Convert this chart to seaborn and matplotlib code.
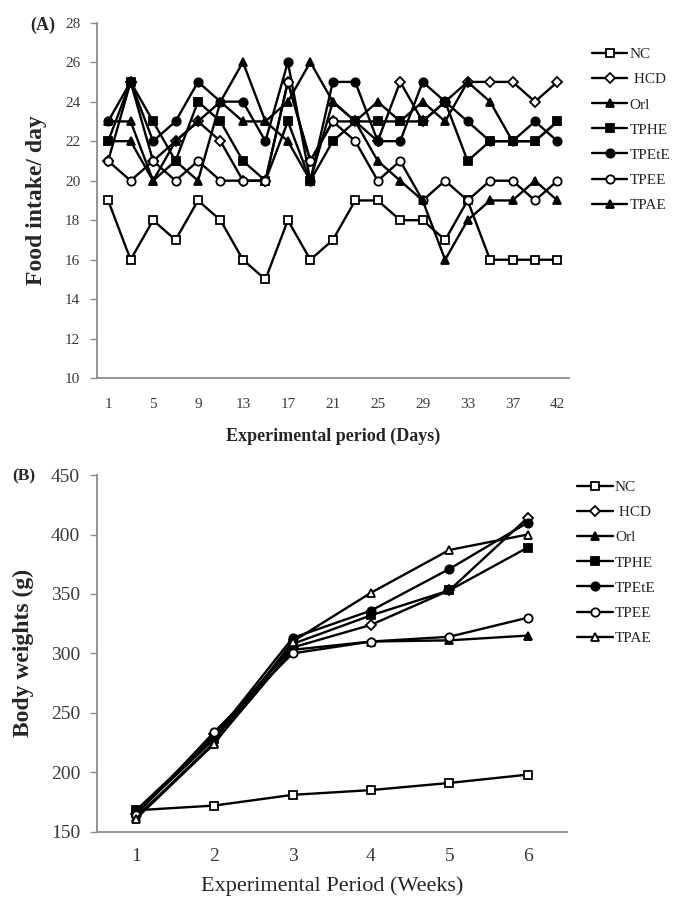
import pandas as pd
import seaborn as sns
import matplotlib.pyplot as plt
import numpy as np

# ---- data ----
groups = ['NC', 'HCD', 'Orl', 'TPHE', 'TPEtE', 'TPEE', 'TPAE']
legend_labels = ['NC', ' HCD', 'Orl', 'TPHE', 'TPEtE', 'TPEE', 'TPAE']

days = [1, 3, 5, 7, 9, 11, 13, 15, 17, 19, 21, 23, 25, 27, 29, 31, 33, 35, 37, 39, 42]
food_nc = [19, 16, 18, 17, 19, 18, 16, 15, 18, 16, 17, 19, 19, 18, 18, 17, 19, 16, 16, 16, 16]
food_hcd = [21, 25, 21, 22, 23, 22, 20, 20, 25, 21, 23, 23, 22, 25, 23, 24, 25, 25, 25, 24, 25]
food_orl = [23, 23, 20, 22, 23, 24, 26, 23, 24, 26, 24, 23, 24, 23, 24, 23, 25, 24, 22, 22, 23]
food_tphe = [22, 25, 23, 21, 24, 23, 21, 20, 23, 20, 22, 23, 23, 23, 23, 24, 21, 22, 22, 22, 23]
food_tpete = [23, 25, 22, 23, 25, 24, 24, 22, 26, 20, 25, 25, 22, 22, 25, 24, 23, 22, 22, 23, 22]
food_tpee = [21, 20, 21, 20, 21, 20, 20, 20, 25, 21, 23, 22, 20, 21, 19, 20, 19, 20, 20, 19, 20]
food_tpae = [22, 22, 20, 21, 20, 24, 23, 23, 22, 20, 24, 23, 21, 20, 19, 16, 18, 19, 19, 20, 19]

weeks = [1, 2, 3, 4, 5, 6]
bw_nc = [168, 172, 181, 185, 191, 198]
bw_hcd = [165, 232, 305, 324, 353, 414]
bw_orl = [162, 225, 303, 310, 311, 315]
bw_tphe = [166, 228, 308, 332, 353, 389]
bw_tpete = [168, 230, 313, 336, 371, 410]
bw_tpee = [164, 234, 300, 310, 314, 330]
bw_tpae = [161, 224, 310, 351, 387, 400]

food = pd.DataFrame({'pos': np.arange(len(days))})
for g, v in zip(groups, [food_nc, food_hcd, food_orl, food_tphe, food_tpete, food_tpee, food_tpae]):
    food[g] = v
food = food.melt(id_vars='pos', var_name='group', value_name='intake')

bw = pd.DataFrame({'week': weeks})
for g, v in zip(groups, [bw_nc, bw_hcd, bw_orl, bw_tphe, bw_tpete, bw_tpee, bw_tpae]):
    bw[g] = v
bw = bw.melt(id_vars='week', var_name='group', value_name='weight')

# marker, face colour, size for each panel
style_a = {'NC': ('s', 'white', 6), 'HCD': ('D', 'white', 5), 'Orl': ('^', 'black', 6),
           'TPHE': ('s', 'black', 6), 'TPEtE': ('o', 'black', 6), 'TPEE': ('o', 'white', 6),
           'TPAE': ('^', 'black', 6)}
style_b = dict(style_a)
style_b['TPAE'] = ('^', 'white', 6)

sns.set_style("white")
plt.rcParams['font.family'] = ['Liberation Serif', 'DejaVu Serif']
tick_col = '#3a3a3a'
spine_col = '#8c8c8c'

fig = plt.figure(figsize=(6.73, 9.05), dpi=100)
ax_a = fig.add_axes([0.144, 0.582, 0.701, 0.393])
ax_b = fig.add_axes([0.144, 0.081, 0.698, 0.394])


def draw(ax, df, x, y, styles):
    for g, lab in zip(groups, legend_labels):
        m, fc, ms = styles[g]
        sns.lineplot(data=df[df['group'] == g], x=x, y=y, ax=ax, color='black',
                     linewidth=1.7, marker=m, markersize=ms, markerfacecolor=fc,
                     markeredgecolor='black', markeredgewidth=1.3, label=lab)
    for side in ['top', 'right']:
        ax.spines[side].set_visible(False)
    for side in ['left', 'bottom']:
        ax.spines[side].set_color(spine_col)
        ax.spines[side].set_linewidth(1.3)


# ---- panel A ----
draw(ax_a, food, 'pos', 'intake', style_a)
ax_a.set_xlim(-0.5, len(days) - 0.5)
ax_a.set_ylim(10, 28)
ax_a.set_yticks(range(10, 29, 2))
ax_a.set_xticks(np.arange(len(days))[::2])
ax_a.set_xticklabels([str(d) for d in days[::2]])
ax_a.set_xticks(np.arange(len(days) + 1) - 0.5, minor=True)
ax_a.tick_params(axis='x', which='major', length=0, pad=14, labelsize=11, labelcolor=tick_col)
ax_a.tick_params(axis='x', which='minor', length=4, width=1, color=spine_col, direction='out')
ax_a.tick_params(axis='y', length=5, width=1, color=spine_col, direction='out', pad=7,
                 labelsize=11, labelcolor=tick_col, left=True)
ax_a.set_ylabel('Food intake/ day', fontsize=17, fontweight='bold', labelpad=13)
ax_a.set_xlabel('Experimental period (Days)', fontsize=13, fontweight='bold', labelpad=12)
ax_a.legend(loc='upper left', bbox_to_anchor=(1.05, 0.93), frameon=False, borderaxespad=0,
            borderpad=0, handlelength=2.3, handletextpad=0.15, labelspacing=0.75, fontsize=11)

# ---- panel B ----
draw(ax_b, bw, 'week', 'weight', style_b)
ax_b.set_xlim(0.5, 6.5)
ax_b.set_ylim(150, 450)
ax_b.set_yticks(range(150, 451, 50))
ax_b.set_xticks(weeks)
ax_b.set_xticks(np.arange(0.5, 7, 1), minor=True)
ax_b.tick_params(axis='x', which='major', length=0, pad=12, labelsize=14, labelcolor=tick_col)
ax_b.tick_params(axis='x', which='minor', length=5, width=1, color=spine_col, direction='out')
ax_b.tick_params(axis='y', length=5, width=1, color=spine_col, direction='out', pad=7,
                 labelsize=14, labelcolor=tick_col, left=True)
ax_b.set_ylabel('Body weights (g)', fontsize=17, fontweight='bold', labelpad=12)
ax_b.set_xlabel('Experimental Period (Weeks)', fontsize=16, labelpad=8)
ax_b.legend(loc='upper left', bbox_to_anchor=(1.023, 0.985), frameon=False, borderaxespad=0,
            borderpad=0, handlelength=2.3, handletextpad=0.15, labelspacing=0.75, fontsize=11)

fig.text(0.063, 1 - 25 / 905, '(A)', fontsize=13, fontweight='bold', ha='center', va='center')
fig.text(0.035, 1 - 476 / 905, '(B)', fontsize=12.5, fontweight='bold', ha='center', va='center')

fig.savefig('out.png', dpi=100)
